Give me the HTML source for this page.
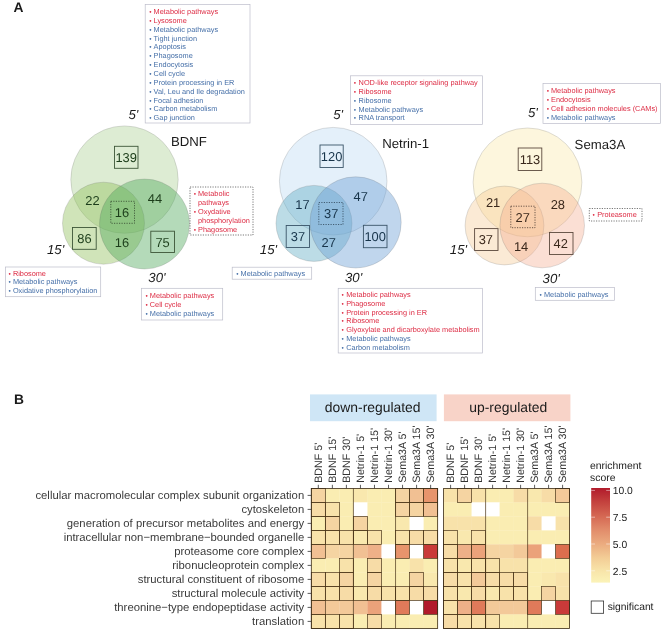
<!DOCTYPE html>
<html><head><meta charset="utf-8"><title>Figure</title>
<style>
html,body{margin:0;padding:0;background:#fff;}
svg{display:block;text-rendering:geometricPrecision;font-family:"Liberation Sans",sans-serif;}
</style></head><body>
<svg width="671" height="640" viewBox="0 0 671 640">
<defs><linearGradient id="lg" x1="0" y1="0" x2="0" y2="1">
<stop offset="0" stop-color="#b11a2b"/><stop offset="0.14" stop-color="#c3403d"/><stop offset="0.31" stop-color="#d66b55"/><stop offset="0.45" stop-color="#e28e6c"/><stop offset="0.59" stop-color="#ebab7f"/><stop offset="0.74" stop-color="#f3cd96"/><stop offset="0.88" stop-color="#f8e5aa"/><stop offset="1" stop-color="#fbf3b8"/>
</linearGradient></defs>
<rect width="671" height="640" fill="#ffffff"/>
<text x="13.4" y="11.8" font-size="13.8" font-weight="bold" fill="#1a1a1a">A</text>
<text x="14" y="404.2" font-size="13.8" font-weight="bold" fill="#1a1a1a">B</text>
<circle cx="124.5" cy="179.6" r="53.7" fill="#aed296" fill-opacity="0.42" stroke="#666" stroke-opacity="0.3" stroke-width="0.7"/>
<circle cx="103.5" cy="223.2" r="41" fill="#8fbf58" fill-opacity="0.42" stroke="#666" stroke-opacity="0.3" stroke-width="0.7"/>
<circle cx="144.5" cy="224" r="45" fill="#4ca758" fill-opacity="0.42" stroke="#666" stroke-opacity="0.3" stroke-width="0.7"/>
<circle cx="333.2" cy="181.2" r="53.8" fill="#bfdbf3" fill-opacity="0.42" stroke="#666" stroke-opacity="0.3" stroke-width="0.7"/>
<circle cx="314" cy="223.4" r="38" fill="#5facc3" fill-opacity="0.42" stroke="#666" stroke-opacity="0.3" stroke-width="0.7"/>
<circle cx="355.6" cy="222.4" r="45.6" fill="#699dd4" fill-opacity="0.42" stroke="#666" stroke-opacity="0.3" stroke-width="0.7"/>
<circle cx="527.5" cy="182.4" r="54.4" fill="#f9e6a1" fill-opacity="0.36" stroke="#666" stroke-opacity="0.3" stroke-width="0.7"/>
<circle cx="504.5" cy="225.5" r="39.4" fill="#f4c58a" fill-opacity="0.36" stroke="#666" stroke-opacity="0.3" stroke-width="0.7"/>
<circle cx="542.2" cy="225.5" r="42.3" fill="#f4a688" fill-opacity="0.36" stroke="#666" stroke-opacity="0.3" stroke-width="0.7"/>
<text x="128.5" y="118.5" font-size="13.2" font-style="italic" fill="#1a1a1a">5'</text>
<text x="47" y="253.7" font-size="13.2" font-style="italic" fill="#1a1a1a">15'</text>
<text x="148.3" y="282.4" font-size="13.2" font-style="italic" fill="#1a1a1a">30'</text>
<text x="171" y="145.7" font-size="13.2" fill="#1a1a1a">BDNF</text>
<rect x="114.5" y="146.3" width="23.50" height="22.00" fill="none" stroke="#3d5638" stroke-width="0.9"/>
<text x="126.2" y="161.92" font-size="12.9" text-anchor="middle" fill="#1c3d1a">139</text>
<text x="92.5" y="205.12" font-size="12.9" text-anchor="middle" fill="#1c3d1a">22</text>
<text x="155" y="202.62" font-size="12.9" text-anchor="middle" fill="#1c3d1a">44</text>
<rect x="110.8" y="201.3" width="23.70" height="22.00" fill="none" stroke="#3d5638" stroke-width="0.9" stroke-dasharray="1.2 1.3"/>
<text x="122" y="217.12" font-size="12.9" text-anchor="middle" fill="#1c3d1a">16</text>
<rect x="72.5" y="227.5" width="23.70" height="21.80" fill="none" stroke="#3d5638" stroke-width="0.9"/>
<text x="84.4" y="243.02" font-size="12.9" text-anchor="middle" fill="#1c3d1a">86</text>
<text x="122" y="247.12" font-size="12.9" text-anchor="middle" fill="#1c3d1a">16</text>
<rect x="150.8" y="231.2" width="23.70" height="21.30" fill="none" stroke="#3d5638" stroke-width="0.9"/>
<text x="162.6" y="246.52" font-size="12.9" text-anchor="middle" fill="#1c3d1a">75</text>
<text x="333.2" y="118.7" font-size="13.2" font-style="italic" fill="#1a1a1a">5'</text>
<text x="259.8" y="254.1" font-size="13.2" font-style="italic" fill="#1a1a1a">15'</text>
<text x="345" y="282.4" font-size="13.2" font-style="italic" fill="#1a1a1a">30'</text>
<text x="382.2" y="148" font-size="13.2" fill="#1a1a1a">Netrin-1</text>
<rect x="320" y="145" width="23.20" height="22.50" fill="none" stroke="#3a5468" stroke-width="0.9"/>
<text x="331.6" y="160.92" font-size="12.9" text-anchor="middle" fill="#17344a">120</text>
<text x="302.5" y="208.82" font-size="12.9" text-anchor="middle" fill="#17344a">17</text>
<text x="360.7" y="200.82" font-size="12.9" text-anchor="middle" fill="#17344a">47</text>
<rect x="318.8" y="202.5" width="24.20" height="22.00" fill="none" stroke="#3a5468" stroke-width="0.9" stroke-dasharray="1.2 1.3"/>
<text x="331.2" y="218.32" font-size="12.9" text-anchor="middle" fill="#17344a">37</text>
<rect x="286.2" y="225.5" width="23.30" height="22.00" fill="none" stroke="#3a5468" stroke-width="0.9"/>
<text x="297.9" y="241.12" font-size="12.9" text-anchor="middle" fill="#17344a">37</text>
<text x="328.7" y="247.12" font-size="12.9" text-anchor="middle" fill="#17344a">27</text>
<rect x="363.4" y="225.3" width="23.60" height="22.40" fill="none" stroke="#3a5468" stroke-width="0.9"/>
<text x="375.2" y="241.12" font-size="12.9" text-anchor="middle" fill="#17344a">100</text>
<text x="528" y="117.2" font-size="13.2" font-style="italic" fill="#1a1a1a">5'</text>
<text x="449.8" y="254.1" font-size="13.2" font-style="italic" fill="#1a1a1a">15'</text>
<text x="542.6" y="282.8" font-size="13.2" font-style="italic" fill="#1a1a1a">30'</text>
<text x="574.6" y="149.2" font-size="13.2" fill="#1a1a1a">Sema3A</text>
<rect x="518.2" y="148" width="23.60" height="22.50" fill="none" stroke="#5c4a3e" stroke-width="0.9"/>
<text x="530" y="163.92" font-size="12.9" text-anchor="middle" fill="#3a281c">113</text>
<text x="493.1" y="206.62" font-size="12.9" text-anchor="middle" fill="#3a281c">21</text>
<text x="557.8" y="208.62" font-size="12.9" text-anchor="middle" fill="#3a281c">28</text>
<rect x="510.8" y="206.2" width="24.20" height="21.50" fill="none" stroke="#5c4a3e" stroke-width="0.9" stroke-dasharray="1.2 1.3"/>
<text x="522.7" y="221.62" font-size="12.9" text-anchor="middle" fill="#3a281c">27</text>
<rect x="474.6" y="228.6" width="23.40" height="21.90" fill="none" stroke="#5c4a3e" stroke-width="0.9"/>
<text x="485.8" y="244.32" font-size="12.9" text-anchor="middle" fill="#3a281c">37</text>
<text x="521.1" y="251.32" font-size="12.9" text-anchor="middle" fill="#3a281c">14</text>
<rect x="549.5" y="232.5" width="23.50" height="22.00" fill="none" stroke="#5c4a3e" stroke-width="0.9"/>
<text x="560.7" y="248.02" font-size="12.9" text-anchor="middle" fill="#3a281c">42</text>
<rect x="145.2" y="4.6" width="104.80" height="118.40" fill="#fff" stroke="#bcbdca" stroke-width="0.7"/>
<text x="149.25" y="14.00" fill="#dd2c44" font-size="6.6">•</text>
<text x="153.6" y="14.00" fill="#dd2c44" font-size="7.35">Metabolic pathways</text>
<text x="149.25" y="22.85" fill="#dd2c44" font-size="6.6">•</text>
<text x="153.6" y="22.85" fill="#dd2c44" font-size="7.35">Lysosome</text>
<text x="149.25" y="31.70" fill="#456fa8" font-size="6.6">•</text>
<text x="153.6" y="31.70" fill="#456fa8" font-size="7.35">Metabolic pathways</text>
<text x="149.25" y="40.55" fill="#456fa8" font-size="6.6">•</text>
<text x="153.6" y="40.55" fill="#456fa8" font-size="7.35">Tight junction</text>
<text x="149.25" y="49.40" fill="#456fa8" font-size="6.6">•</text>
<text x="153.6" y="49.40" fill="#456fa8" font-size="7.35">Apoptosis</text>
<text x="149.25" y="58.25" fill="#456fa8" font-size="6.6">•</text>
<text x="153.6" y="58.25" fill="#456fa8" font-size="7.35">Phagosome</text>
<text x="149.25" y="67.10" fill="#456fa8" font-size="6.6">•</text>
<text x="153.6" y="67.10" fill="#456fa8" font-size="7.35">Endocytosis</text>
<text x="149.25" y="75.95" fill="#456fa8" font-size="6.6">•</text>
<text x="153.6" y="75.95" fill="#456fa8" font-size="7.35">Cell cycle</text>
<text x="149.25" y="84.80" fill="#456fa8" font-size="6.6">•</text>
<text x="153.6" y="84.80" fill="#456fa8" font-size="7.35">Protein processing in ER</text>
<text x="149.25" y="93.65" fill="#456fa8" font-size="6.6">•</text>
<text x="153.6" y="93.65" fill="#456fa8" font-size="7.35">Val, Leu and Ile degradation</text>
<text x="149.25" y="102.50" fill="#456fa8" font-size="6.6">•</text>
<text x="153.6" y="102.50" fill="#456fa8" font-size="7.35">Focal adhesion</text>
<text x="149.25" y="111.35" fill="#456fa8" font-size="6.6">•</text>
<text x="153.6" y="111.35" fill="#456fa8" font-size="7.35">Carbon metabolism</text>
<text x="149.25" y="120.20" fill="#456fa8" font-size="6.6">•</text>
<text x="153.6" y="120.20" fill="#456fa8" font-size="7.35">Gap junction</text>
<rect x="190" y="187" width="63.00" height="48.00" fill="none" stroke="#555" stroke-width="0.8" stroke-dasharray="1.2 1.3"/>
<text x="193.65" y="196.20" fill="#dd2c44" font-size="6.6">•</text>
<text x="198" y="196.20" fill="#dd2c44" font-size="7.35">Metabolic</text>
<text x="198" y="205.05" fill="#dd2c44" font-size="7.35">pathways</text>
<text x="193.65" y="213.90" fill="#dd2c44" font-size="6.6">•</text>
<text x="198" y="213.90" fill="#dd2c44" font-size="7.35">Oxydative</text>
<text x="198" y="222.75" fill="#dd2c44" font-size="7.35">phosphorylation</text>
<text x="193.65" y="231.60" fill="#dd2c44" font-size="6.6">•</text>
<text x="198" y="231.60" fill="#dd2c44" font-size="7.35">Phagosome</text>
<rect x="5.5" y="267" width="95.20" height="29.70" fill="#fff" stroke="#bcbdca" stroke-width="0.7"/>
<text x="8.45" y="275.60" fill="#dd2c44" font-size="6.6">•</text>
<text x="12.9" y="275.60" fill="#dd2c44" font-size="7.35">Ribosome</text>
<text x="8.45" y="284.45" fill="#456fa8" font-size="6.6">•</text>
<text x="12.9" y="284.45" fill="#456fa8" font-size="7.35">Metabolic pathways</text>
<text x="8.45" y="293.30" fill="#456fa8" font-size="6.6">•</text>
<text x="12.9" y="293.30" fill="#456fa8" font-size="7.35">Oxidative phosphorylation</text>
<rect x="141.5" y="288.3" width="81.20" height="31.70" fill="#fff" stroke="#bcbdca" stroke-width="0.7"/>
<text x="145.45" y="298.00" fill="#dd2c44" font-size="6.6">•</text>
<text x="149.8" y="298.00" fill="#dd2c44" font-size="7.35">Metabolic pathways</text>
<text x="145.45" y="306.85" fill="#dd2c44" font-size="6.6">•</text>
<text x="149.8" y="306.85" fill="#dd2c44" font-size="7.35">Cell cycle</text>
<text x="145.45" y="315.70" fill="#456fa8" font-size="6.6">•</text>
<text x="149.8" y="315.70" fill="#456fa8" font-size="7.35">Metabolic pathways</text>
<rect x="350.5" y="75.8" width="132.00" height="48.70" fill="#fff" stroke="#bcbdca" stroke-width="0.7"/>
<text x="353.85" y="85.00" fill="#dd2c44" font-size="6.6">•</text>
<text x="358.6" y="85.00" fill="#dd2c44" font-size="7.35">NOD-like receptor signaling pathway</text>
<text x="353.85" y="93.85" fill="#dd2c44" font-size="6.6">•</text>
<text x="358.6" y="93.85" fill="#dd2c44" font-size="7.35">Ribosome</text>
<text x="353.85" y="102.70" fill="#456fa8" font-size="6.6">•</text>
<text x="358.6" y="102.70" fill="#456fa8" font-size="7.35">Ribosome</text>
<text x="353.85" y="111.55" fill="#456fa8" font-size="6.6">•</text>
<text x="358.6" y="111.55" fill="#456fa8" font-size="7.35">Metabolic pathways</text>
<text x="353.85" y="120.40" fill="#456fa8" font-size="6.6">•</text>
<text x="358.6" y="120.40" fill="#456fa8" font-size="7.35">RNA transport</text>
<rect x="232.2" y="267.2" width="79.50" height="12.00" fill="#fff" stroke="#bcbdca" stroke-width="0.7"/>
<text x="236.25" y="275.80" fill="#456fa8" font-size="6.6">•</text>
<text x="240.6" y="275.80" fill="#456fa8" font-size="7.35">Metabolic pathways</text>
<rect x="338.2" y="288.3" width="144.30" height="64.70" fill="#fff" stroke="#bcbdca" stroke-width="0.7"/>
<text x="341.45" y="296.90" fill="#dd2c44" font-size="6.6">•</text>
<text x="346.2" y="296.90" fill="#dd2c44" font-size="7.35">Metabolic pathways</text>
<text x="341.45" y="305.75" fill="#dd2c44" font-size="6.6">•</text>
<text x="346.2" y="305.75" fill="#dd2c44" font-size="7.35">Phagosome</text>
<text x="341.45" y="314.60" fill="#dd2c44" font-size="6.6">•</text>
<text x="346.2" y="314.60" fill="#dd2c44" font-size="7.35">Protein processing in ER</text>
<text x="341.45" y="323.45" fill="#dd2c44" font-size="6.6">•</text>
<text x="346.2" y="323.45" fill="#dd2c44" font-size="7.35">Ribosome</text>
<text x="341.45" y="332.30" fill="#dd2c44" font-size="6.6">•</text>
<text x="346.2" y="332.30" fill="#dd2c44" font-size="7.35">Glyoxylate and dicarboxylate metabolism</text>
<text x="341.45" y="341.15" fill="#456fa8" font-size="6.6">•</text>
<text x="346.2" y="341.15" fill="#456fa8" font-size="7.35">Metabolic pathways</text>
<text x="341.45" y="350.00" fill="#456fa8" font-size="6.6">•</text>
<text x="346.2" y="350.00" fill="#456fa8" font-size="7.35">Carbon metabolism</text>
<rect x="543" y="83.5" width="117.60" height="40.10" fill="#fff" stroke="#bcbdca" stroke-width="0.7"/>
<text x="546.65" y="93.20" fill="#dd2c44" font-size="6.6">•</text>
<text x="551" y="93.20" fill="#dd2c44" font-size="7.35">Metabolic pathways</text>
<text x="546.65" y="102.05" fill="#dd2c44" font-size="6.6">•</text>
<text x="551" y="102.05" fill="#dd2c44" font-size="7.35">Endocytosis</text>
<text x="546.65" y="110.90" fill="#dd2c44" font-size="6.6">•</text>
<text x="551" y="110.90" fill="#dd2c44" font-size="7.35">Cell adhesion molecules (CAMs)</text>
<text x="546.65" y="119.75" fill="#456fa8" font-size="6.6">•</text>
<text x="551" y="119.75" fill="#456fa8" font-size="7.35">Metabolic pathways</text>
<rect x="589.3" y="208.5" width="52.70" height="12.50" fill="none" stroke="#555" stroke-width="0.8" stroke-dasharray="1.2 1.3"/>
<text x="592.45" y="217.30" fill="#dd2c44" font-size="6.6">•</text>
<text x="597.2" y="217.30" fill="#dd2c44" font-size="7.35">Proteasome</text>
<rect x="535.3" y="287.4" width="79.20" height="12.90" fill="#fff" stroke="#bcbdca" stroke-width="0.7"/>
<text x="539.45" y="296.50" fill="#456fa8" font-size="6.6">•</text>
<text x="544" y="296.50" fill="#456fa8" font-size="7.35">Metabolic pathways</text>
<rect x="311.30" y="488.40" width="14.34" height="14.30" fill="#f5d4a2"/>
<rect x="325.34" y="488.40" width="14.34" height="14.30" fill="#faedb2"/>
<rect x="339.38" y="488.40" width="14.34" height="14.30" fill="#faedb2"/>
<rect x="353.42" y="488.40" width="14.34" height="14.30" fill="#f9e8ae"/>
<rect x="367.46" y="488.40" width="14.34" height="14.30" fill="#faedb2"/>
<rect x="381.50" y="488.40" width="14.34" height="14.30" fill="#faedb2"/>
<rect x="395.54" y="488.40" width="14.34" height="14.30" fill="#f5d4a2"/>
<rect x="409.58" y="488.40" width="14.34" height="14.30" fill="#f1c093"/>
<rect x="423.62" y="488.40" width="14.34" height="14.30" fill="#e7946c"/>
<rect x="311.30" y="502.40" width="14.34" height="14.30" fill="#f7dca7"/>
<rect x="325.34" y="502.40" width="14.34" height="14.30" fill="#f8e2aa"/>
<rect x="339.38" y="502.40" width="14.34" height="14.30" fill="#faedb2"/>
<rect x="353.42" y="502.40" width="14.34" height="14.30" fill="#ffffff"/>
<rect x="367.46" y="502.40" width="14.34" height="14.30" fill="#faedb2"/>
<rect x="381.50" y="502.40" width="14.34" height="14.30" fill="#faedb2"/>
<rect x="395.54" y="502.40" width="14.34" height="14.30" fill="#f5d4a2"/>
<rect x="409.58" y="502.40" width="14.34" height="14.30" fill="#f5d4a2"/>
<rect x="423.62" y="502.40" width="14.34" height="14.30" fill="#f1c093"/>
<rect x="311.30" y="516.40" width="14.34" height="14.30" fill="#faedb2"/>
<rect x="325.34" y="516.40" width="14.34" height="14.30" fill="#f5d4a2"/>
<rect x="339.38" y="516.40" width="14.34" height="14.30" fill="#faedb2"/>
<rect x="353.42" y="516.40" width="14.34" height="14.30" fill="#f5d4a2"/>
<rect x="367.46" y="516.40" width="14.34" height="14.30" fill="#faedb2"/>
<rect x="381.50" y="516.40" width="14.34" height="14.30" fill="#faedb2"/>
<rect x="395.54" y="516.40" width="14.34" height="14.30" fill="#f9e8ae"/>
<rect x="409.58" y="516.40" width="14.34" height="14.30" fill="#ffffff"/>
<rect x="423.62" y="516.40" width="14.34" height="14.30" fill="#faedb2"/>
<rect x="311.30" y="530.40" width="14.34" height="14.30" fill="#f8e2aa"/>
<rect x="325.34" y="530.40" width="14.34" height="14.30" fill="#f8e2aa"/>
<rect x="339.38" y="530.40" width="14.34" height="14.30" fill="#f8e2aa"/>
<rect x="353.42" y="530.40" width="14.34" height="14.30" fill="#f9e8ae"/>
<rect x="367.46" y="530.40" width="14.34" height="14.30" fill="#f8e2aa"/>
<rect x="381.50" y="530.40" width="14.34" height="14.30" fill="#faedb2"/>
<rect x="395.54" y="530.40" width="14.34" height="14.30" fill="#f8e2aa"/>
<rect x="409.58" y="530.40" width="14.34" height="14.30" fill="#f7dca7"/>
<rect x="423.62" y="530.40" width="14.34" height="14.30" fill="#f7dca7"/>
<rect x="311.30" y="544.40" width="14.34" height="14.30" fill="#f1c093"/>
<rect x="325.34" y="544.40" width="14.34" height="14.30" fill="#f5d4a2"/>
<rect x="339.38" y="544.40" width="14.34" height="14.30" fill="#f5d4a2"/>
<rect x="353.42" y="544.40" width="14.34" height="14.30" fill="#f1c093"/>
<rect x="367.46" y="544.40" width="14.34" height="14.30" fill="#eeb088"/>
<rect x="381.50" y="544.40" width="14.34" height="14.30" fill="#ffffff"/>
<rect x="395.54" y="544.40" width="14.34" height="14.30" fill="#e7946c"/>
<rect x="409.58" y="544.40" width="14.34" height="14.30" fill="#ffffff"/>
<rect x="423.62" y="544.40" width="14.34" height="14.30" fill="#c93a39"/>
<rect x="311.30" y="558.40" width="14.34" height="14.30" fill="#faedb2"/>
<rect x="325.34" y="558.40" width="14.34" height="14.30" fill="#faedb2"/>
<rect x="339.38" y="558.40" width="14.34" height="14.30" fill="#f8e2aa"/>
<rect x="353.42" y="558.40" width="14.34" height="14.30" fill="#faedb2"/>
<rect x="367.46" y="558.40" width="14.34" height="14.30" fill="#f7dca7"/>
<rect x="381.50" y="558.40" width="14.34" height="14.30" fill="#faedb2"/>
<rect x="395.54" y="558.40" width="14.34" height="14.30" fill="#faedb2"/>
<rect x="409.58" y="558.40" width="14.34" height="14.30" fill="#f8e2aa"/>
<rect x="423.62" y="558.40" width="14.34" height="14.30" fill="#faedb2"/>
<rect x="311.30" y="572.40" width="14.34" height="14.30" fill="#f7dca7"/>
<rect x="325.34" y="572.40" width="14.34" height="14.30" fill="#f8e2aa"/>
<rect x="339.38" y="572.40" width="14.34" height="14.30" fill="#f5d4a2"/>
<rect x="353.42" y="572.40" width="14.34" height="14.30" fill="#faedb2"/>
<rect x="367.46" y="572.40" width="14.34" height="14.30" fill="#f5d4a2"/>
<rect x="381.50" y="572.40" width="14.34" height="14.30" fill="#faedb2"/>
<rect x="395.54" y="572.40" width="14.34" height="14.30" fill="#faedb2"/>
<rect x="409.58" y="572.40" width="14.34" height="14.30" fill="#f5d4a2"/>
<rect x="423.62" y="572.40" width="14.34" height="14.30" fill="#f9e8ae"/>
<rect x="311.30" y="586.40" width="14.34" height="14.30" fill="#f8e2aa"/>
<rect x="325.34" y="586.40" width="14.34" height="14.30" fill="#f8e2aa"/>
<rect x="339.38" y="586.40" width="14.34" height="14.30" fill="#f7dca7"/>
<rect x="353.42" y="586.40" width="14.34" height="14.30" fill="#f9e8ae"/>
<rect x="367.46" y="586.40" width="14.34" height="14.30" fill="#f7dca7"/>
<rect x="381.50" y="586.40" width="14.34" height="14.30" fill="#f8e2aa"/>
<rect x="395.54" y="586.40" width="14.34" height="14.30" fill="#f8e2aa"/>
<rect x="409.58" y="586.40" width="14.34" height="14.30" fill="#f7dca7"/>
<rect x="423.62" y="586.40" width="14.34" height="14.30" fill="#f7dca7"/>
<rect x="311.30" y="600.40" width="14.34" height="14.30" fill="#f1c093"/>
<rect x="325.34" y="600.40" width="14.34" height="14.30" fill="#f3c999"/>
<rect x="339.38" y="600.40" width="14.34" height="14.30" fill="#f3c999"/>
<rect x="353.42" y="600.40" width="14.34" height="14.30" fill="#f1c093"/>
<rect x="367.46" y="600.40" width="14.34" height="14.30" fill="#eba27a"/>
<rect x="381.50" y="600.40" width="14.34" height="14.30" fill="#ffffff"/>
<rect x="395.54" y="600.40" width="14.34" height="14.30" fill="#e07a5a"/>
<rect x="409.58" y="600.40" width="14.34" height="14.30" fill="#ffffff"/>
<rect x="423.62" y="600.40" width="14.34" height="14.30" fill="#b11a2b"/>
<rect x="311.30" y="614.40" width="14.34" height="14.30" fill="#f8e2aa"/>
<rect x="325.34" y="614.40" width="14.34" height="14.30" fill="#f8e2aa"/>
<rect x="339.38" y="614.40" width="14.34" height="14.30" fill="#f8e2aa"/>
<rect x="353.42" y="614.40" width="14.34" height="14.30" fill="#faedb2"/>
<rect x="367.46" y="614.40" width="14.34" height="14.30" fill="#f7dca7"/>
<rect x="381.50" y="614.40" width="14.34" height="14.30" fill="#faedb2"/>
<rect x="395.54" y="614.40" width="14.34" height="14.30" fill="#faedb2"/>
<rect x="409.58" y="614.40" width="14.34" height="14.30" fill="#faedb2"/>
<rect x="423.62" y="614.40" width="14.34" height="14.30" fill="#faedb2"/>
<rect x="311.30" y="488.40" width="14.04" height="14.00" fill="none" stroke="#4a3518" stroke-width="0.7"/>
<rect x="395.54" y="488.40" width="14.04" height="14.00" fill="none" stroke="#4a3518" stroke-width="0.7"/>
<rect x="409.58" y="488.40" width="14.04" height="14.00" fill="none" stroke="#4a3518" stroke-width="0.7"/>
<rect x="423.62" y="488.40" width="14.04" height="14.00" fill="none" stroke="#4a3518" stroke-width="0.7"/>
<rect x="311.30" y="502.40" width="14.04" height="14.00" fill="none" stroke="#4a3518" stroke-width="0.7"/>
<rect x="325.34" y="502.40" width="14.04" height="14.00" fill="none" stroke="#4a3518" stroke-width="0.7"/>
<rect x="395.54" y="502.40" width="14.04" height="14.00" fill="none" stroke="#4a3518" stroke-width="0.7"/>
<rect x="409.58" y="502.40" width="14.04" height="14.00" fill="none" stroke="#4a3518" stroke-width="0.7"/>
<rect x="423.62" y="502.40" width="14.04" height="14.00" fill="none" stroke="#4a3518" stroke-width="0.7"/>
<rect x="311.30" y="516.40" width="14.04" height="14.00" fill="none" stroke="#4a3518" stroke-width="0.7"/>
<rect x="325.34" y="516.40" width="14.04" height="14.00" fill="none" stroke="#4a3518" stroke-width="0.7"/>
<rect x="353.42" y="516.40" width="14.04" height="14.00" fill="none" stroke="#4a3518" stroke-width="0.7"/>
<rect x="311.30" y="530.40" width="14.04" height="14.00" fill="none" stroke="#4a3518" stroke-width="0.7"/>
<rect x="325.34" y="530.40" width="14.04" height="14.00" fill="none" stroke="#4a3518" stroke-width="0.7"/>
<rect x="339.38" y="530.40" width="14.04" height="14.00" fill="none" stroke="#4a3518" stroke-width="0.7"/>
<rect x="353.42" y="530.40" width="14.04" height="14.00" fill="none" stroke="#4a3518" stroke-width="0.7"/>
<rect x="367.46" y="530.40" width="14.04" height="14.00" fill="none" stroke="#4a3518" stroke-width="0.7"/>
<rect x="395.54" y="530.40" width="14.04" height="14.00" fill="none" stroke="#4a3518" stroke-width="0.7"/>
<rect x="409.58" y="530.40" width="14.04" height="14.00" fill="none" stroke="#4a3518" stroke-width="0.7"/>
<rect x="423.62" y="530.40" width="14.04" height="14.00" fill="none" stroke="#4a3518" stroke-width="0.7"/>
<rect x="311.30" y="544.40" width="14.04" height="14.00" fill="none" stroke="#4a3518" stroke-width="0.7"/>
<rect x="395.54" y="544.40" width="14.04" height="14.00" fill="none" stroke="#4a3518" stroke-width="0.7"/>
<rect x="423.62" y="544.40" width="14.04" height="14.00" fill="none" stroke="#4a3518" stroke-width="0.7"/>
<rect x="339.38" y="558.40" width="14.04" height="14.00" fill="none" stroke="#4a3518" stroke-width="0.7"/>
<rect x="367.46" y="558.40" width="14.04" height="14.00" fill="none" stroke="#4a3518" stroke-width="0.7"/>
<rect x="311.30" y="572.40" width="14.04" height="14.00" fill="none" stroke="#4a3518" stroke-width="0.7"/>
<rect x="325.34" y="572.40" width="14.04" height="14.00" fill="none" stroke="#4a3518" stroke-width="0.7"/>
<rect x="339.38" y="572.40" width="14.04" height="14.00" fill="none" stroke="#4a3518" stroke-width="0.7"/>
<rect x="367.46" y="572.40" width="14.04" height="14.00" fill="none" stroke="#4a3518" stroke-width="0.7"/>
<rect x="409.58" y="572.40" width="14.04" height="14.00" fill="none" stroke="#4a3518" stroke-width="0.7"/>
<rect x="311.30" y="586.40" width="14.04" height="14.00" fill="none" stroke="#4a3518" stroke-width="0.7"/>
<rect x="325.34" y="586.40" width="14.04" height="14.00" fill="none" stroke="#4a3518" stroke-width="0.7"/>
<rect x="339.38" y="586.40" width="14.04" height="14.00" fill="none" stroke="#4a3518" stroke-width="0.7"/>
<rect x="353.42" y="586.40" width="14.04" height="14.00" fill="none" stroke="#4a3518" stroke-width="0.7"/>
<rect x="367.46" y="586.40" width="14.04" height="14.00" fill="none" stroke="#4a3518" stroke-width="0.7"/>
<rect x="381.50" y="586.40" width="14.04" height="14.00" fill="none" stroke="#4a3518" stroke-width="0.7"/>
<rect x="395.54" y="586.40" width="14.04" height="14.00" fill="none" stroke="#4a3518" stroke-width="0.7"/>
<rect x="409.58" y="586.40" width="14.04" height="14.00" fill="none" stroke="#4a3518" stroke-width="0.7"/>
<rect x="423.62" y="586.40" width="14.04" height="14.00" fill="none" stroke="#4a3518" stroke-width="0.7"/>
<rect x="311.30" y="600.40" width="14.04" height="14.00" fill="none" stroke="#4a3518" stroke-width="0.7"/>
<rect x="395.54" y="600.40" width="14.04" height="14.00" fill="none" stroke="#4a3518" stroke-width="0.7"/>
<rect x="423.62" y="600.40" width="14.04" height="14.00" fill="none" stroke="#4a3518" stroke-width="0.7"/>
<rect x="311.30" y="614.40" width="14.04" height="14.00" fill="none" stroke="#4a3518" stroke-width="0.7"/>
<rect x="325.34" y="614.40" width="14.04" height="14.00" fill="none" stroke="#4a3518" stroke-width="0.7"/>
<rect x="339.38" y="614.40" width="14.04" height="14.00" fill="none" stroke="#4a3518" stroke-width="0.7"/>
<rect x="367.46" y="614.40" width="14.04" height="14.00" fill="none" stroke="#4a3518" stroke-width="0.7"/>
<line x1="353.42" y1="488.4" x2="353.42" y2="628.4" stroke="#4a3518" stroke-width="0.7"/>
<line x1="395.54" y1="488.4" x2="395.54" y2="628.4" stroke="#4a3518" stroke-width="0.7"/>
<rect x="311.3" y="488.4" width="126.36" height="140.00" fill="none" stroke="#3a2a14" stroke-width="0.8"/>
<line x1="318.32" y1="484.79999999999995" x2="318.32" y2="488.4" stroke="#333" stroke-width="0.8"/>
<text transform="translate(322.12,482.79999999999995) rotate(-90)" font-size="10.7" fill="#333">BDNF 5'</text>
<line x1="332.36" y1="484.79999999999995" x2="332.36" y2="488.4" stroke="#333" stroke-width="0.8"/>
<text transform="translate(336.16,482.79999999999995) rotate(-90)" font-size="10.7" fill="#333">BDNF 15'</text>
<line x1="346.40" y1="484.79999999999995" x2="346.40" y2="488.4" stroke="#333" stroke-width="0.8"/>
<text transform="translate(350.20,482.79999999999995) rotate(-90)" font-size="10.7" fill="#333">BDNF 30'</text>
<line x1="360.44" y1="484.79999999999995" x2="360.44" y2="488.4" stroke="#333" stroke-width="0.8"/>
<text transform="translate(364.24,482.79999999999995) rotate(-90)" font-size="10.7" fill="#333">Netrin-1 5'</text>
<line x1="374.48" y1="484.79999999999995" x2="374.48" y2="488.4" stroke="#333" stroke-width="0.8"/>
<text transform="translate(378.28,482.79999999999995) rotate(-90)" font-size="10.7" fill="#333">Netrin-1 15'</text>
<line x1="388.52" y1="484.79999999999995" x2="388.52" y2="488.4" stroke="#333" stroke-width="0.8"/>
<text transform="translate(392.32,482.79999999999995) rotate(-90)" font-size="10.7" fill="#333">Netrin-1 30'</text>
<line x1="402.56" y1="484.79999999999995" x2="402.56" y2="488.4" stroke="#333" stroke-width="0.8"/>
<text transform="translate(406.36,482.79999999999995) rotate(-90)" font-size="10.7" fill="#333">Sema3A 5'</text>
<line x1="416.60" y1="484.79999999999995" x2="416.60" y2="488.4" stroke="#333" stroke-width="0.8"/>
<text transform="translate(420.40,482.79999999999995) rotate(-90)" font-size="10.7" fill="#333">Sema3A 15'</text>
<line x1="430.64" y1="484.79999999999995" x2="430.64" y2="488.4" stroke="#333" stroke-width="0.8"/>
<text transform="translate(434.44,482.79999999999995) rotate(-90)" font-size="10.7" fill="#333">Sema3A 30'</text>
<rect x="443.60" y="488.40" width="14.30" height="14.30" fill="#f8e2aa"/>
<rect x="457.60" y="488.40" width="14.30" height="14.30" fill="#f5d4a2"/>
<rect x="471.60" y="488.40" width="14.30" height="14.30" fill="#f8e2aa"/>
<rect x="485.60" y="488.40" width="14.30" height="14.30" fill="#faedb2"/>
<rect x="499.60" y="488.40" width="14.30" height="14.30" fill="#faedb2"/>
<rect x="513.60" y="488.40" width="14.30" height="14.30" fill="#f7dca7"/>
<rect x="527.60" y="488.40" width="14.30" height="14.30" fill="#f9e8ae"/>
<rect x="541.60" y="488.40" width="14.30" height="14.30" fill="#f7dca7"/>
<rect x="555.60" y="488.40" width="14.30" height="14.30" fill="#f3c999"/>
<rect x="443.60" y="502.40" width="14.30" height="14.30" fill="#faedb2"/>
<rect x="457.60" y="502.40" width="14.30" height="14.30" fill="#faedb2"/>
<rect x="471.60" y="502.40" width="14.30" height="14.30" fill="#ffffff"/>
<rect x="485.60" y="502.40" width="14.30" height="14.30" fill="#ffffff"/>
<rect x="499.60" y="502.40" width="14.30" height="14.30" fill="#faedb2"/>
<rect x="513.60" y="502.40" width="14.30" height="14.30" fill="#faedb2"/>
<rect x="527.60" y="502.40" width="14.30" height="14.30" fill="#faedb2"/>
<rect x="541.60" y="502.40" width="14.30" height="14.30" fill="#faedb2"/>
<rect x="555.60" y="502.40" width="14.30" height="14.30" fill="#faedb2"/>
<rect x="443.60" y="516.40" width="14.30" height="14.30" fill="#f8e2aa"/>
<rect x="457.60" y="516.40" width="14.30" height="14.30" fill="#f8e2aa"/>
<rect x="471.60" y="516.40" width="14.30" height="14.30" fill="#f8e2aa"/>
<rect x="485.60" y="516.40" width="14.30" height="14.30" fill="#faedb2"/>
<rect x="499.60" y="516.40" width="14.30" height="14.30" fill="#faedb2"/>
<rect x="513.60" y="516.40" width="14.30" height="14.30" fill="#faedb2"/>
<rect x="527.60" y="516.40" width="14.30" height="14.30" fill="#f7dca7"/>
<rect x="541.60" y="516.40" width="14.30" height="14.30" fill="#ffffff"/>
<rect x="555.60" y="516.40" width="14.30" height="14.30" fill="#f8e2aa"/>
<rect x="443.60" y="530.40" width="14.30" height="14.30" fill="#f8e2aa"/>
<rect x="457.60" y="530.40" width="14.30" height="14.30" fill="#f9e8ae"/>
<rect x="471.60" y="530.40" width="14.30" height="14.30" fill="#f8e2aa"/>
<rect x="485.60" y="530.40" width="14.30" height="14.30" fill="#faedb2"/>
<rect x="499.60" y="530.40" width="14.30" height="14.30" fill="#faedb2"/>
<rect x="513.60" y="530.40" width="14.30" height="14.30" fill="#faedb2"/>
<rect x="527.60" y="530.40" width="14.30" height="14.30" fill="#faedb2"/>
<rect x="541.60" y="530.40" width="14.30" height="14.30" fill="#faedb2"/>
<rect x="555.60" y="530.40" width="14.30" height="14.30" fill="#faedb2"/>
<rect x="443.60" y="544.40" width="14.30" height="14.30" fill="#f7dca7"/>
<rect x="457.60" y="544.40" width="14.30" height="14.30" fill="#eeb088"/>
<rect x="471.60" y="544.40" width="14.30" height="14.30" fill="#eba27a"/>
<rect x="485.60" y="544.40" width="14.30" height="14.30" fill="#f5d4a2"/>
<rect x="499.60" y="544.40" width="14.30" height="14.30" fill="#f5d4a2"/>
<rect x="513.60" y="544.40" width="14.30" height="14.30" fill="#f3c999"/>
<rect x="527.60" y="544.40" width="14.30" height="14.30" fill="#eba27a"/>
<rect x="541.60" y="544.40" width="14.30" height="14.30" fill="#ffffff"/>
<rect x="555.60" y="544.40" width="14.30" height="14.30" fill="#dc6e4e"/>
<rect x="443.60" y="558.40" width="14.30" height="14.30" fill="#f8e2aa"/>
<rect x="457.60" y="558.40" width="14.30" height="14.30" fill="#f9e8ae"/>
<rect x="471.60" y="558.40" width="14.30" height="14.30" fill="#f8e2aa"/>
<rect x="485.60" y="558.40" width="14.30" height="14.30" fill="#f8e2aa"/>
<rect x="499.60" y="558.40" width="14.30" height="14.30" fill="#f8e2aa"/>
<rect x="513.60" y="558.40" width="14.30" height="14.30" fill="#f8e2aa"/>
<rect x="527.60" y="558.40" width="14.30" height="14.30" fill="#faedb2"/>
<rect x="541.60" y="558.40" width="14.30" height="14.30" fill="#faedb2"/>
<rect x="555.60" y="558.40" width="14.30" height="14.30" fill="#faedb2"/>
<rect x="443.60" y="572.40" width="14.30" height="14.30" fill="#f7dca7"/>
<rect x="457.60" y="572.40" width="14.30" height="14.30" fill="#f8e2aa"/>
<rect x="471.60" y="572.40" width="14.30" height="14.30" fill="#f3c999"/>
<rect x="485.60" y="572.40" width="14.30" height="14.30" fill="#f7dca7"/>
<rect x="499.60" y="572.40" width="14.30" height="14.30" fill="#f7dca7"/>
<rect x="513.60" y="572.40" width="14.30" height="14.30" fill="#f7dca7"/>
<rect x="527.60" y="572.40" width="14.30" height="14.30" fill="#faedb2"/>
<rect x="541.60" y="572.40" width="14.30" height="14.30" fill="#f9e8ae"/>
<rect x="555.60" y="572.40" width="14.30" height="14.30" fill="#f8e2aa"/>
<rect x="443.60" y="586.40" width="14.30" height="14.30" fill="#f8e2aa"/>
<rect x="457.60" y="586.40" width="14.30" height="14.30" fill="#f9e8ae"/>
<rect x="471.60" y="586.40" width="14.30" height="14.30" fill="#f7dca7"/>
<rect x="485.60" y="586.40" width="14.30" height="14.30" fill="#f9e8ae"/>
<rect x="499.60" y="586.40" width="14.30" height="14.30" fill="#f8e2aa"/>
<rect x="513.60" y="586.40" width="14.30" height="14.30" fill="#f8e2aa"/>
<rect x="527.60" y="586.40" width="14.30" height="14.30" fill="#faedb2"/>
<rect x="541.60" y="586.40" width="14.30" height="14.30" fill="#f5d4a2"/>
<rect x="555.60" y="586.40" width="14.30" height="14.30" fill="#f8e2aa"/>
<rect x="443.60" y="600.40" width="14.30" height="14.30" fill="#f8e2aa"/>
<rect x="457.60" y="600.40" width="14.30" height="14.30" fill="#eeb088"/>
<rect x="471.60" y="600.40" width="14.30" height="14.30" fill="#e07a5a"/>
<rect x="485.60" y="600.40" width="14.30" height="14.30" fill="#f3c999"/>
<rect x="499.60" y="600.40" width="14.30" height="14.30" fill="#f3c999"/>
<rect x="513.60" y="600.40" width="14.30" height="14.30" fill="#f3c999"/>
<rect x="527.60" y="600.40" width="14.30" height="14.30" fill="#e07a5a"/>
<rect x="541.60" y="600.40" width="14.30" height="14.30" fill="#ffffff"/>
<rect x="555.60" y="600.40" width="14.30" height="14.30" fill="#c93a39"/>
<rect x="443.60" y="614.40" width="14.30" height="14.30" fill="#f7dca7"/>
<rect x="457.60" y="614.40" width="14.30" height="14.30" fill="#f8e2aa"/>
<rect x="471.60" y="614.40" width="14.30" height="14.30" fill="#f8e2aa"/>
<rect x="485.60" y="614.40" width="14.30" height="14.30" fill="#f8e2aa"/>
<rect x="499.60" y="614.40" width="14.30" height="14.30" fill="#faedb2"/>
<rect x="513.60" y="614.40" width="14.30" height="14.30" fill="#faedb2"/>
<rect x="527.60" y="614.40" width="14.30" height="14.30" fill="#faedb2"/>
<rect x="541.60" y="614.40" width="14.30" height="14.30" fill="#faedb2"/>
<rect x="555.60" y="614.40" width="14.30" height="14.30" fill="#faedb2"/>
<rect x="457.60" y="488.40" width="14.00" height="14.00" fill="none" stroke="#4a3518" stroke-width="0.7"/>
<rect x="555.60" y="488.40" width="14.00" height="14.00" fill="none" stroke="#4a3518" stroke-width="0.7"/>
<rect x="443.60" y="530.40" width="14.00" height="14.00" fill="none" stroke="#4a3518" stroke-width="0.7"/>
<rect x="471.60" y="530.40" width="14.00" height="14.00" fill="none" stroke="#4a3518" stroke-width="0.7"/>
<rect x="443.60" y="544.40" width="14.00" height="14.00" fill="none" stroke="#4a3518" stroke-width="0.7"/>
<rect x="457.60" y="544.40" width="14.00" height="14.00" fill="none" stroke="#4a3518" stroke-width="0.7"/>
<rect x="471.60" y="544.40" width="14.00" height="14.00" fill="none" stroke="#4a3518" stroke-width="0.7"/>
<rect x="555.60" y="544.40" width="14.00" height="14.00" fill="none" stroke="#4a3518" stroke-width="0.7"/>
<rect x="443.60" y="558.40" width="14.00" height="14.00" fill="none" stroke="#4a3518" stroke-width="0.7"/>
<rect x="457.60" y="558.40" width="14.00" height="14.00" fill="none" stroke="#4a3518" stroke-width="0.7"/>
<rect x="471.60" y="558.40" width="14.00" height="14.00" fill="none" stroke="#4a3518" stroke-width="0.7"/>
<rect x="485.60" y="558.40" width="14.00" height="14.00" fill="none" stroke="#4a3518" stroke-width="0.7"/>
<rect x="443.60" y="572.40" width="14.00" height="14.00" fill="none" stroke="#4a3518" stroke-width="0.7"/>
<rect x="457.60" y="572.40" width="14.00" height="14.00" fill="none" stroke="#4a3518" stroke-width="0.7"/>
<rect x="471.60" y="572.40" width="14.00" height="14.00" fill="none" stroke="#4a3518" stroke-width="0.7"/>
<rect x="485.60" y="572.40" width="14.00" height="14.00" fill="none" stroke="#4a3518" stroke-width="0.7"/>
<rect x="499.60" y="572.40" width="14.00" height="14.00" fill="none" stroke="#4a3518" stroke-width="0.7"/>
<rect x="513.60" y="572.40" width="14.00" height="14.00" fill="none" stroke="#4a3518" stroke-width="0.7"/>
<rect x="443.60" y="586.40" width="14.00" height="14.00" fill="none" stroke="#4a3518" stroke-width="0.7"/>
<rect x="457.60" y="586.40" width="14.00" height="14.00" fill="none" stroke="#4a3518" stroke-width="0.7"/>
<rect x="471.60" y="586.40" width="14.00" height="14.00" fill="none" stroke="#4a3518" stroke-width="0.7"/>
<rect x="485.60" y="586.40" width="14.00" height="14.00" fill="none" stroke="#4a3518" stroke-width="0.7"/>
<rect x="499.60" y="586.40" width="14.00" height="14.00" fill="none" stroke="#4a3518" stroke-width="0.7"/>
<rect x="513.60" y="586.40" width="14.00" height="14.00" fill="none" stroke="#4a3518" stroke-width="0.7"/>
<rect x="541.60" y="586.40" width="14.00" height="14.00" fill="none" stroke="#4a3518" stroke-width="0.7"/>
<rect x="443.60" y="600.40" width="14.00" height="14.00" fill="none" stroke="#4a3518" stroke-width="0.7"/>
<rect x="457.60" y="600.40" width="14.00" height="14.00" fill="none" stroke="#4a3518" stroke-width="0.7"/>
<rect x="471.60" y="600.40" width="14.00" height="14.00" fill="none" stroke="#4a3518" stroke-width="0.7"/>
<rect x="527.60" y="600.40" width="14.00" height="14.00" fill="none" stroke="#4a3518" stroke-width="0.7"/>
<rect x="555.60" y="600.40" width="14.00" height="14.00" fill="none" stroke="#4a3518" stroke-width="0.7"/>
<rect x="443.60" y="614.40" width="14.00" height="14.00" fill="none" stroke="#4a3518" stroke-width="0.7"/>
<rect x="457.60" y="614.40" width="14.00" height="14.00" fill="none" stroke="#4a3518" stroke-width="0.7"/>
<rect x="471.60" y="614.40" width="14.00" height="14.00" fill="none" stroke="#4a3518" stroke-width="0.7"/>
<rect x="485.60" y="614.40" width="14.00" height="14.00" fill="none" stroke="#4a3518" stroke-width="0.7"/>
<line x1="485.60" y1="488.4" x2="485.60" y2="628.4" stroke="#4a3518" stroke-width="0.7"/>
<line x1="527.60" y1="488.4" x2="527.60" y2="628.4" stroke="#4a3518" stroke-width="0.7"/>
<rect x="443.6" y="488.4" width="126.00" height="140.00" fill="none" stroke="#3a2a14" stroke-width="0.8"/>
<line x1="450.60" y1="484.79999999999995" x2="450.60" y2="488.4" stroke="#333" stroke-width="0.8"/>
<text transform="translate(454.40,482.79999999999995) rotate(-90)" font-size="10.7" fill="#333">BDNF 5'</text>
<line x1="464.60" y1="484.79999999999995" x2="464.60" y2="488.4" stroke="#333" stroke-width="0.8"/>
<text transform="translate(468.40,482.79999999999995) rotate(-90)" font-size="10.7" fill="#333">BDNF 15'</text>
<line x1="478.60" y1="484.79999999999995" x2="478.60" y2="488.4" stroke="#333" stroke-width="0.8"/>
<text transform="translate(482.40,482.79999999999995) rotate(-90)" font-size="10.7" fill="#333">BDNF 30'</text>
<line x1="492.60" y1="484.79999999999995" x2="492.60" y2="488.4" stroke="#333" stroke-width="0.8"/>
<text transform="translate(496.40,482.79999999999995) rotate(-90)" font-size="10.7" fill="#333">Netrin-1 5'</text>
<line x1="506.60" y1="484.79999999999995" x2="506.60" y2="488.4" stroke="#333" stroke-width="0.8"/>
<text transform="translate(510.40,482.79999999999995) rotate(-90)" font-size="10.7" fill="#333">Netrin-1 15'</text>
<line x1="520.60" y1="484.79999999999995" x2="520.60" y2="488.4" stroke="#333" stroke-width="0.8"/>
<text transform="translate(524.40,482.79999999999995) rotate(-90)" font-size="10.7" fill="#333">Netrin-1 30'</text>
<line x1="534.60" y1="484.79999999999995" x2="534.60" y2="488.4" stroke="#333" stroke-width="0.8"/>
<text transform="translate(538.40,482.79999999999995) rotate(-90)" font-size="10.7" fill="#333">Sema3A 5'</text>
<line x1="548.60" y1="484.79999999999995" x2="548.60" y2="488.4" stroke="#333" stroke-width="0.8"/>
<text transform="translate(552.40,482.79999999999995) rotate(-90)" font-size="10.7" fill="#333">Sema3A 15'</text>
<line x1="562.60" y1="484.79999999999995" x2="562.60" y2="488.4" stroke="#333" stroke-width="0.8"/>
<text transform="translate(566.40,482.79999999999995) rotate(-90)" font-size="10.7" fill="#333">Sema3A 30'</text>
<rect x="310" y="394.4" width="126.6" height="26.8" fill="#cfe6f6"/>
<rect x="443.9" y="394.4" width="126.5" height="26.8" fill="#f8d3c8"/>
<text x="372.7" y="412.4" font-size="13.9" text-anchor="middle" fill="#1a1a1a">down-regulated</text>
<text x="508.3" y="412.4" font-size="13.9" text-anchor="middle" fill="#1a1a1a">up-regulated</text>
<line x1="307.6" y1="495.40" x2="311.3" y2="495.40" stroke="#333" stroke-width="0.8"/>
<text x="304.2" y="499.30" font-size="11.31" text-anchor="end" fill="#3a3a3a">cellular macromolecular complex subunit organization</text>
<line x1="307.6" y1="509.40" x2="311.3" y2="509.40" stroke="#333" stroke-width="0.8"/>
<text x="304.2" y="513.30" font-size="11.31" text-anchor="end" fill="#3a3a3a">cytoskeleton</text>
<line x1="307.6" y1="523.40" x2="311.3" y2="523.40" stroke="#333" stroke-width="0.8"/>
<text x="304.2" y="527.30" font-size="11.31" text-anchor="end" fill="#3a3a3a">generation of precursor metabolites and energy</text>
<line x1="307.6" y1="537.40" x2="311.3" y2="537.40" stroke="#333" stroke-width="0.8"/>
<text x="304.2" y="541.30" font-size="11.31" text-anchor="end" fill="#3a3a3a">intracellular non−membrane−bounded organelle</text>
<line x1="307.6" y1="551.40" x2="311.3" y2="551.40" stroke="#333" stroke-width="0.8"/>
<text x="304.2" y="555.30" font-size="11.31" text-anchor="end" fill="#3a3a3a">proteasome core complex</text>
<line x1="307.6" y1="565.40" x2="311.3" y2="565.40" stroke="#333" stroke-width="0.8"/>
<text x="304.2" y="569.30" font-size="11.31" text-anchor="end" fill="#3a3a3a">ribonucleoprotein complex</text>
<line x1="307.6" y1="579.40" x2="311.3" y2="579.40" stroke="#333" stroke-width="0.8"/>
<text x="304.2" y="583.30" font-size="11.31" text-anchor="end" fill="#3a3a3a">structural constituent of ribosome</text>
<line x1="307.6" y1="593.40" x2="311.3" y2="593.40" stroke="#333" stroke-width="0.8"/>
<text x="304.2" y="597.30" font-size="11.31" text-anchor="end" fill="#3a3a3a">structural molecule activity</text>
<line x1="307.6" y1="607.40" x2="311.3" y2="607.40" stroke="#333" stroke-width="0.8"/>
<text x="304.2" y="611.30" font-size="11.31" text-anchor="end" fill="#3a3a3a">threonine−type endopeptidase activity</text>
<line x1="307.6" y1="621.40" x2="311.3" y2="621.40" stroke="#333" stroke-width="0.8"/>
<text x="304.2" y="625.30" font-size="11.31" text-anchor="end" fill="#3a3a3a">translation</text>
<text x="590" y="469" font-size="10.4" fill="#1a1a1a">enrichment</text>
<text x="590" y="481.2" font-size="10.4" fill="#1a1a1a">score</text>
<rect x="591.2" y="488" width="18.8" height="94.6" fill="url(#lg)"/>
<line x1="591.2" y1="490.4" x2="595" y2="490.4" stroke="#fff" stroke-opacity="0.7" stroke-width="0.7"/>
<line x1="606.2" y1="490.4" x2="610" y2="490.4" stroke="#fff" stroke-opacity="0.7" stroke-width="0.7"/>
<text x="612.8" y="494.10" font-size="10.3" fill="#1a1a1a">10.0</text>
<line x1="591.2" y1="517.2" x2="595" y2="517.2" stroke="#fff" stroke-opacity="0.7" stroke-width="0.7"/>
<line x1="606.2" y1="517.2" x2="610" y2="517.2" stroke="#fff" stroke-opacity="0.7" stroke-width="0.7"/>
<text x="612.8" y="520.90" font-size="10.3" fill="#1a1a1a">7.5</text>
<line x1="591.2" y1="544" x2="595" y2="544" stroke="#fff" stroke-opacity="0.7" stroke-width="0.7"/>
<line x1="606.2" y1="544" x2="610" y2="544" stroke="#fff" stroke-opacity="0.7" stroke-width="0.7"/>
<text x="612.8" y="547.70" font-size="10.3" fill="#1a1a1a">5.0</text>
<line x1="591.2" y1="570.8" x2="595" y2="570.8" stroke="#fff" stroke-opacity="0.7" stroke-width="0.7"/>
<line x1="606.2" y1="570.8" x2="610" y2="570.8" stroke="#fff" stroke-opacity="0.7" stroke-width="0.7"/>
<text x="612.8" y="574.50" font-size="10.3" fill="#1a1a1a">2.5</text>
<rect x="591.2" y="601" width="12.4" height="12.3" fill="#fff" stroke="#333" stroke-width="0.8"/>
<text x="607.7" y="610.4" font-size="10.3" fill="#1a1a1a">significant</text>
</svg>
</body></html>
